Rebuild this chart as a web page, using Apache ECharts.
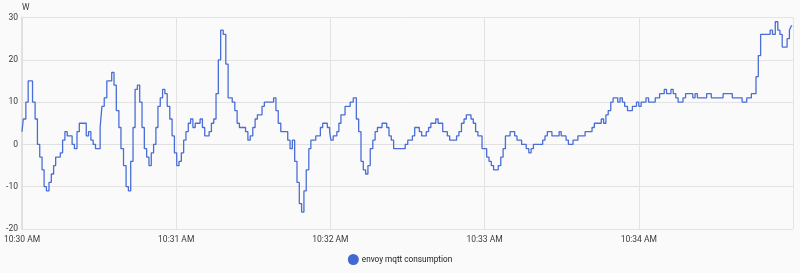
<!DOCTYPE html>
<html>
<head>
<meta charset="utf-8">
<script src="https://cdn.jsdelivr.net/npm/echarts@6/dist/echarts.min.js"></script>
<style>
  html, body { margin: 0; padding: 0; background: #fafafa; }
  #chart { width: 800px; height: 273px; }
</style>
</head>
<body>
<div id="chart"></div>
<script>
// seconds after 10:30:00 at which the reading changes
const times = [
  0,0.5,1.5,2.4,4.1,5.1,6.0,6.9,7.8,8.6,
  9.5,10.5,11.4,12.3,13.1,14.9,15.8,16.7,17.6,19.5,
  20.4,21.4,22.3,25.0,25.9,26.8,27.7,28.6,30.4,31.1,
  32.0,33.0,34.9,35.8,36.7,37.7,38.5,39.5,40.5,41.4,
  42.3,43.2,44.0,44.9,45.8,46.7,47.6,48.5,49.4,50.3,
  51.2,52.1,52.9,53.8,54.7,55.6,56.5,57.5,58.4,59.3,
  60.2,61.1,62.0,62.9,63.8,64.7,65.6,66.5,67.4,69.3,
  70.2,71.1,72.8,73.7,74.6,75.5,76.4,77.3,78.3,79.3,
  80.2,81.8,82.8,83.7,84.6,87.0,87.9,88.8,89.8,90.7,
  91.6,93.4,94.3,97.9,98.8,99.7,100.7,103.4,104.3,105.2,
  106.1,107.0,107.9,108.8,109.7,110.6,111.6,112.4,114.3,116.1,
  117.0,118.8,119.7,120.2,121.1,122.5,123.3,124.1,125.7,127.7,
  128.9,130.1,131.0,131.9,132.8,133.7,134.6,135.5,136.5,137.4,
  138.3,140.1,141.9,142.8,143.7,144.6,149.1,150.1,151.9,152.8,
  154.6,155.5,157.3,158.2,159.1,161.0,161.9,163.7,165.5,166.4,
  169.1,170.0,171.0,172.0,172.9,174.7,175.6,176.5,177.4,179.0,
  180.8,181.7,182.6,183.5,185.3,186.3,187.2,188.1,189.9,191.7,
  192.6,194.4,196.2,197.2,198.1,199.0,202.6,203.5,204.4,206.2,
  209.0,209.8,211.7,212.6,214.4,216.3,219.1,221.8,222.7,225.4,
  226.3,227.2,228.1,229.1,230.0,231.8,232.7,233.6,234.5,235.6,
  237.5,239.1,240.0,240.9,242.8,243.8,246.4,248.1,249.9,250.8,
  252.5,253.4,254.4,255.3,257.2,258.2,261.0,261.9,262.8,266.4,
  268.2,272.8,276.4,280.2,282.0,283.8,285.6,286.5,287.4,291.1,
  292.0,293.1,294.1,294.9,295.8,297.7,298.6,299.3,299.7
];
// consumption in W
const values = [
  3,6,10,15,10,6,0,-3,-6,-10,
  -11,-9,-7,-5,-3,-2,1,3,2,0,
  -1,3,5,2,3,1,0,-1,4,9,
  11,15,17,14,8,4,-1,-5,-10,-11,
  -4,4,13,14,10,4,-1,-3,-5,-2,
  0,4,9,11,13,12,9,6,2,-2,
  -5,-4,-2,1,3,5,6,4,5,6,
  4,2,3,5,6,12,20,27,26,19,
  11,10,8,5,4,3,1,2,4,6,
  7,9,10,11,8,5,3,1,-1,1,
  -4,-9,-14,-16,-11,-6,-1,1,2,4,
  5,4,3,1,2,3,5,7,9,10,
  11,6,3,-4,-6,-7,-5,-1,1,3,
  4,5,4,2,1,-1,0,1,2,4,
  3,2,3,4,5,6,5,3,2,1,
  2,3,5,6,7,6,5,3,2,-1,
  -3,-4,-5,-6,-5,-3,-1,2,3,2,
  1,0,-1,-2,-1,0,1,2,3,2,
  3,2,1,0,1,2,3,4,5,6,
  5,7,8,10,11,10,11,10,9,8,
  9,10,9,10,11,10,11,12,13,12,
  13,12,11,10,11,12,11,12,11,12,
  11,12,11,10,11,12,16,21,26,27,
  26,29,27,26,23,25,27,28,28
];
const seriesName = 'envoy mqtt consumption';
const unit = 'W';
const yTicks = { min: -20, max: 30, step: 10 };
const startTime = new Date(2024, 0, 1, 10, 30, 0).getTime();
const spanMinutes = 5;

const data = times.map((t, i) => [startTime + t * 1000, values[i]]);

function fmtTime(val) {
  const d = new Date(val);
  let h = d.getHours();
  const m = d.getMinutes();
  const ap = h >= 12 ? 'PM' : 'AM';
  h = h % 12 || 12;
  return h + ':' + String(m).padStart(2, '0') + ' ' + ap;
}

const chart = echarts.init(document.getElementById('chart'), null, { renderer: 'canvas' });
chart.setOption({
  backgroundColor: '#fafafa',
  animation: false,
  textStyle: { fontFamily: 'Roboto' },
  grid: { left: 22, right: 7, top: 17.5, bottom: 44, containLabel: false },
  legend: {
    bottom: 3,
    left: 'center',
    icon: 'circle',
    itemWidth: 11,
    itemHeight: 11,
    itemGap: 10,
    textStyle: { fontSize: 8.2, color: '#212121', fontFamily: 'Roboto', padding: [0, 0, 0, -2] },
    data: [seriesName]
  },
  xAxis: {
    type: 'time',
    min: startTime,
    max: startTime + spanMinutes * 60000,
    interval: 60000,
    minInterval: 60000,
    maxInterval: 60000,
    axisLine: { show: true, lineStyle: { color: '#e0e0e0', width: 1 } },
    axisTick: { show: false },
    splitLine: { show: true, lineStyle: { color: '#e3e3e3', width: 1 } },
    axisLabel: {
      fontSize: 8.5,
      color: '#3a3a3a',
      margin: 6,
      showMaxLabel: false,
      hideOverlap: false,
      formatter: fmtTime
    }
  },
  yAxis: {
    type: 'value',
    min: yTicks.min,
    max: yTicks.max,
    interval: yTicks.step,
    name: unit,
    nameLocation: 'end',
    nameGap: 5,
    nameTextStyle: { fontSize: 8.5, color: '#3a3a3a', align: 'left', padding: [0, 0, 0, 0] },
    axisLine: { show: true, lineStyle: { color: '#e0e0e0', width: 2 } },
    axisTick: { show: false },
    splitLine: { show: true, lineStyle: { color: '#e3e3e3', width: 1 } },
    axisLabel: { fontSize: 8.5, color: '#3a3a3a', margin: 4 }
  },
  series: [{
    name: seriesName,
    type: 'line',
    step: 'end',
    showSymbol: false,
    symbol: 'circle',
    color: '#4269d0',
    lineStyle: { width: 1.3, color: '#4a6ed6' },
    data: data
  }]
});
</script>
</body>
</html>
